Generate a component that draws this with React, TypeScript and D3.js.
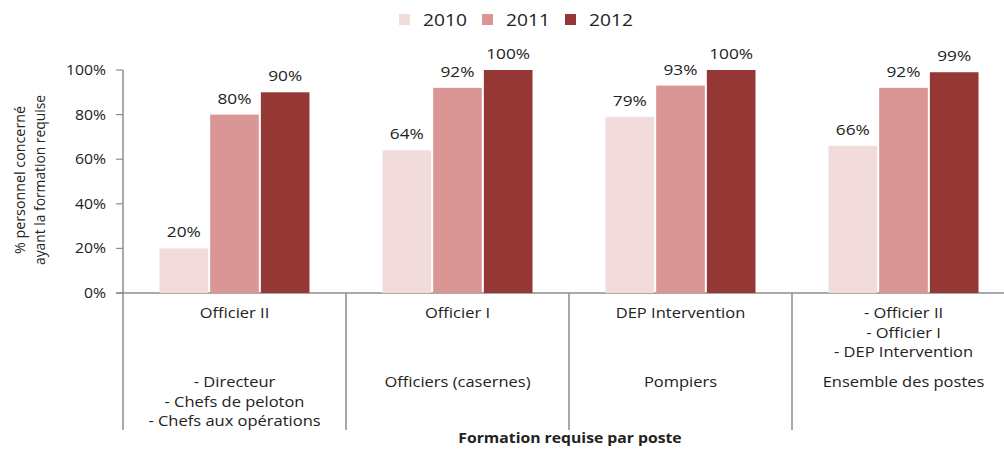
import React from "react";
import * as d3 from "d3";

const categories = ["Officier II", "Officier I", "DEP Intervention", "Ensemble"];
const topLabels = [["Officier II"], ["Officier I"], ["DEP Intervention"], ["- Officier II", "- Officier I", "- DEP Intervention"]];
const bottomLabels = [["- Directeur", "- Chefs de peloton", "- Chefs aux opérations"], ["Officiers (casernes)"], ["Pompiers"], ["Ensemble des postes"]];
const years = ["2010", "2011", "2012"];
const v2010 = [20, 64, 79, 66];
const v2011 = [80, 92, 93, 92];
const v2012 = [90, 100, 100, 99];
const seriesValues = [v2010, v2011, v2012];
const colors = ["#f2dcdb", "#d99694", "#953735"];
const yTicks = [0, 20, 40, 60, 80, 100];

const W = 1004, H = 449;
const left = 123, right = 1015, top = 70, bottom = 293;
const font = "'Open Sans', 'Noto Sans', sans-serif";

function T({ x, y, sx = 1.1, children, anchor = "middle", size = 15, weight = "normal" }: any) {
  return (
    <text transform={`translate(${x},${y}) scale(${sx},1)`} fontSize={size} textAnchor={anchor} fontWeight={weight} fill="#222">
      {children}
    </text>
  );
}

export default function App() {
  const x = d3.scaleBand<string>().domain(categories).range([left, right]).padding(0);
  const inner = d3.scaleBand<string>().domain(years).range([0, 150]).paddingInner(0.04);
  const y = d3.scaleLinear().domain([0, 100]).range([bottom, top]);
  const cw = x.bandwidth();
  return (
    <svg width={W} height={H} style={{ position: "absolute", left: 0, top: 0, background: "#fff" }} fontFamily={font}>
      {/* legend */}
      {years.map((yr, i) => (
        <g key={yr} transform={`translate(${399 + i * 83},0)`}>
          <rect x={0} y={14} width={11} height={11} fill={colors[i]} />
          <T x={24} y={26} size={17} sx={1.13} anchor="start">{yr}</T>
        </g>
      ))}
      {/* y axis label */}
      <g transform="translate(25,180) rotate(-90)" fontSize={14} fill="#222" textAnchor="middle">
        <text x={0} y={0} textLength={148} lengthAdjust="spacingAndGlyphs">% personnel concerné</text>
        <text x={0} y={20} textLength={170} lengthAdjust="spacingAndGlyphs">ayant la formation requise</text>
      </g>
      {/* y axis */}
      <line x1={left} x2={left} y1={top} y2={430} stroke="#8c8c8c" strokeWidth={1.5} />
      {yTicks.map(t => (
        <g key={t}>
          <line x1={left - 7} x2={left} y1={y(t)} y2={y(t)} stroke="#8c8c8c" strokeWidth={1.2} />
          <T x={left - 17} y={y(t) + 5} anchor="end" sx={1.05}>{t}%</T>
        </g>
      ))}
      {/* x baseline */}
      <line x1={left - 7} x2={W} y1={bottom} y2={bottom} stroke="#8c8c8c" strokeWidth={1.5} />
      {/* bars */}
      {categories.map((c, ci) => {
        const gx = (x(c) as number) + (cw - 150) / 2;
        return (
          <g key={c}>
            {years.map((yr, si) => {
              const v = seriesValues[si][ci];
              const bx = gx + (inner(yr) as number);
              return (
                <g key={yr}>
                  <rect x={bx} y={y(v)} width={inner.bandwidth()} height={bottom - y(v)} fill={colors[si]} />
                  <T x={bx + inner.bandwidth() / 2} y={y(v) - 11} sx={1.15}>{v}%</T>
                </g>
              );
            })}
          </g>
        );
      })}
      {/* category separators and labels */}
      {categories.map((c, ci) => {
        const cx = (x(c) as number) + cw / 2;
        return (
          <g key={c}>
            {ci > 0 && <line x1={x(c)} x2={x(c)} y1={bottom} y2={430} stroke="#8c8c8c" strokeWidth={1.5} />}
            {topLabels[ci].map((t, i) => (
              <T key={t} x={cx} y={318 + i * 19.5}>{t}</T>
            ))}
            {bottomLabels[ci].map((t, i) => (
              <T key={t} x={cx} y={387 + i * 19.5}>{t}</T>
            ))}
          </g>
        );
      })}
      <T x={570} y={443} weight="bold" sx={1.05}>Formation requise par poste</T>
    </svg>
  );
}
